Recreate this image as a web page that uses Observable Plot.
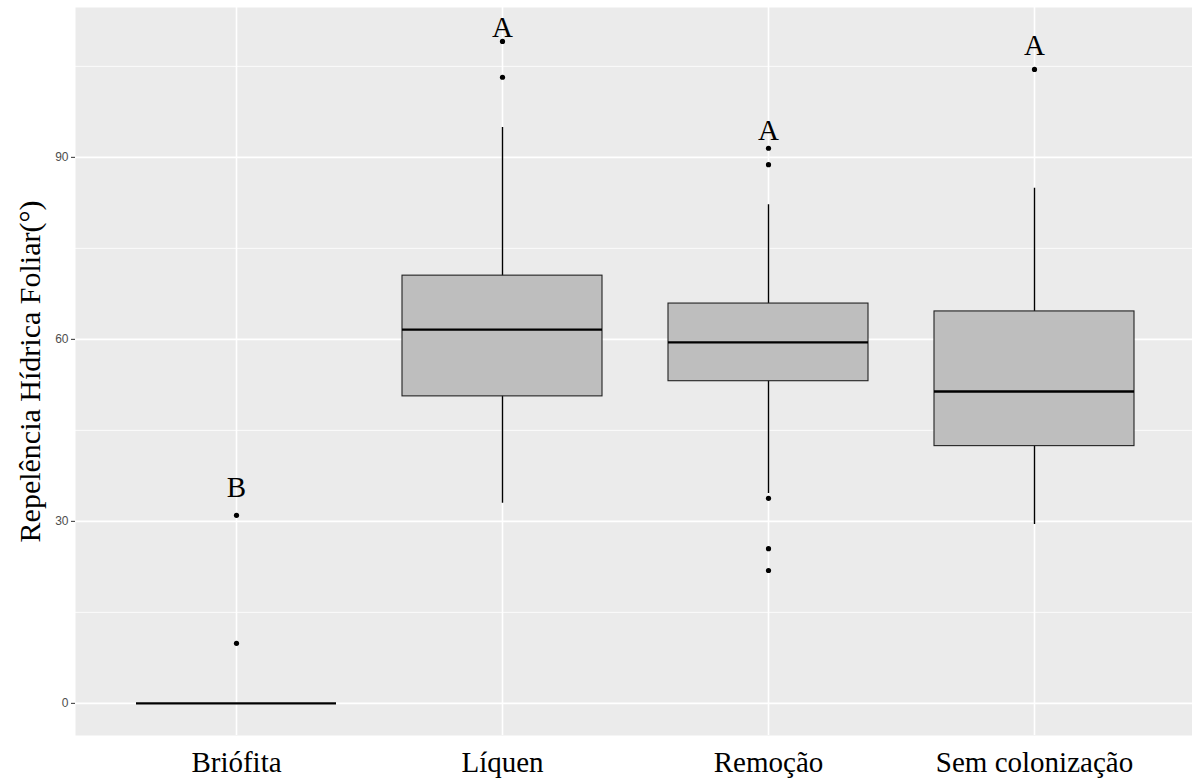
<!DOCTYPE html>
<html>
<head>
<meta charset="utf-8">
<script src="https://cdn.jsdelivr.net/npm/d3@7"></script>
<script src="https://cdn.jsdelivr.net/npm/@observablehq/plot@0.6"></script>
<style>
  html, body { margin: 0; padding: 0; background: white; }
  #chart svg { display: block; }
</style>
</head>
<body>
<div id="chart"></div>
<script>
// ---- data ----
const categories = ["Briófita", "Líquen", "Remoção", "Sem colonização"];
const q1 = [0, 50.6, 53.1, 42.4];
const median = [0, 61.6, 59.5, 51.4];
const q3 = [0, 70.5, 65.9, 64.6];
const whiskerLow = [0, 33.0, 34.6, 29.5];
const whiskerHigh = [0, 94.9, 82.2, 84.9];

const outlierCat = ["Briófita", "Briófita", "Líquen", "Líquen", "Remoção", "Remoção", "Remoção", "Remoção", "Remoção", "Sem colonização"];
const outlierValue = [31.0, 9.9, 109.1, 103.2, 91.5, 88.8, 33.8, 25.5, 21.9, 104.5];

const letterLabels = ["B", "A", "A", "A"];
const letterY = [34.0, 109.8, 92.8, 106.8];

const majorTicks = [0, 30, 60, 90];
const minorTicks = [15, 45, 75, 105];
const yTitle = "Repelência Hídrica Foliar(°)";

// ---- tables built from the arrays ----
const boxes = categories.map((c, i) => ({
  cat: c, q1: q1[i], median: median[i], q3: q3[i], lo: whiskerLow[i], hi: whiskerHigh[i]
}));
const outliers = outlierCat.map((c, i) => ({cat: c, value: outlierValue[i]}));
const letters = categories.map((c, i) => ({cat: c, label: letterLabels[i], y: letterY[i]}));

const serif = "'Liberation Serif', 'Times New Roman', serif";

const chart = Plot.plot({
  width: 1192,
  height: 780,
  marginLeft: 75,
  marginRight: 0,
  marginTop: 7,
  marginBottom: 45,
  style: {background: "white", overflow: "visible"},
  x: {type: "band", domain: categories, range: [75, 1195], paddingInner: 0.25, paddingOuter: 0.225, align: 0.5},
  y: {domain: [-5.3, 114.7]},
  marks: [
    Plot.frame({fill: "#ebebeb", stroke: null}),
    Plot.ruleY(minorTicks, {stroke: "white", strokeWidth: 0.8}),
    Plot.ruleY(majorTicks, {stroke: "white", strokeWidth: 1.6}),
    Plot.ruleX(categories, {x: d => d, stroke: "white", strokeWidth: 1.6}),
    Plot.ruleX(boxes, {x: "cat", y1: "lo", y2: "hi", stroke: "black", strokeWidth: 1.4}),
    Plot.barY(boxes.filter(d => d.q3 > d.q1), {x: "cat", y1: "q1", y2: "q3", fill: "#bebebe", stroke: "#222", strokeWidth: 1.1}),
    Plot.tickY(boxes, {x: "cat", y: "median", stroke: "black", strokeWidth: 2.3}),
    Plot.dot(outliers, {x: "cat", y: "value", r: 2.6, fill: "black", stroke: null}),
    Plot.text(letters, {x: "cat", y: "y", text: "label", lineAnchor: "bottom", textAnchor: "middle",
      fontSize: 29, fontFamily: serif, fill: "black"}),
    Plot.axisY(majorTicks, {tickSize: 4, tickPadding: 3, fontSize: 12, fill: "#4d4d4d", stroke: "#333",
      fontFamily: "'Liberation Sans', Arial, sans-serif", label: null}),
    Plot.axisX({tickSize: 0, tickPadding: 16, fontSize: 29, fontFamily: serif, fill: "black", label: null}),
    Plot.text([yTitle], {frameAnchor: "left", dx: -45, rotate: -90, textAnchor: "middle", lineAnchor: "middle",
      fontSize: 30, fontFamily: serif, fill: "black"})
  ]
});
document.getElementById("chart").appendChild(chart);
</script>
</body>
</html>
